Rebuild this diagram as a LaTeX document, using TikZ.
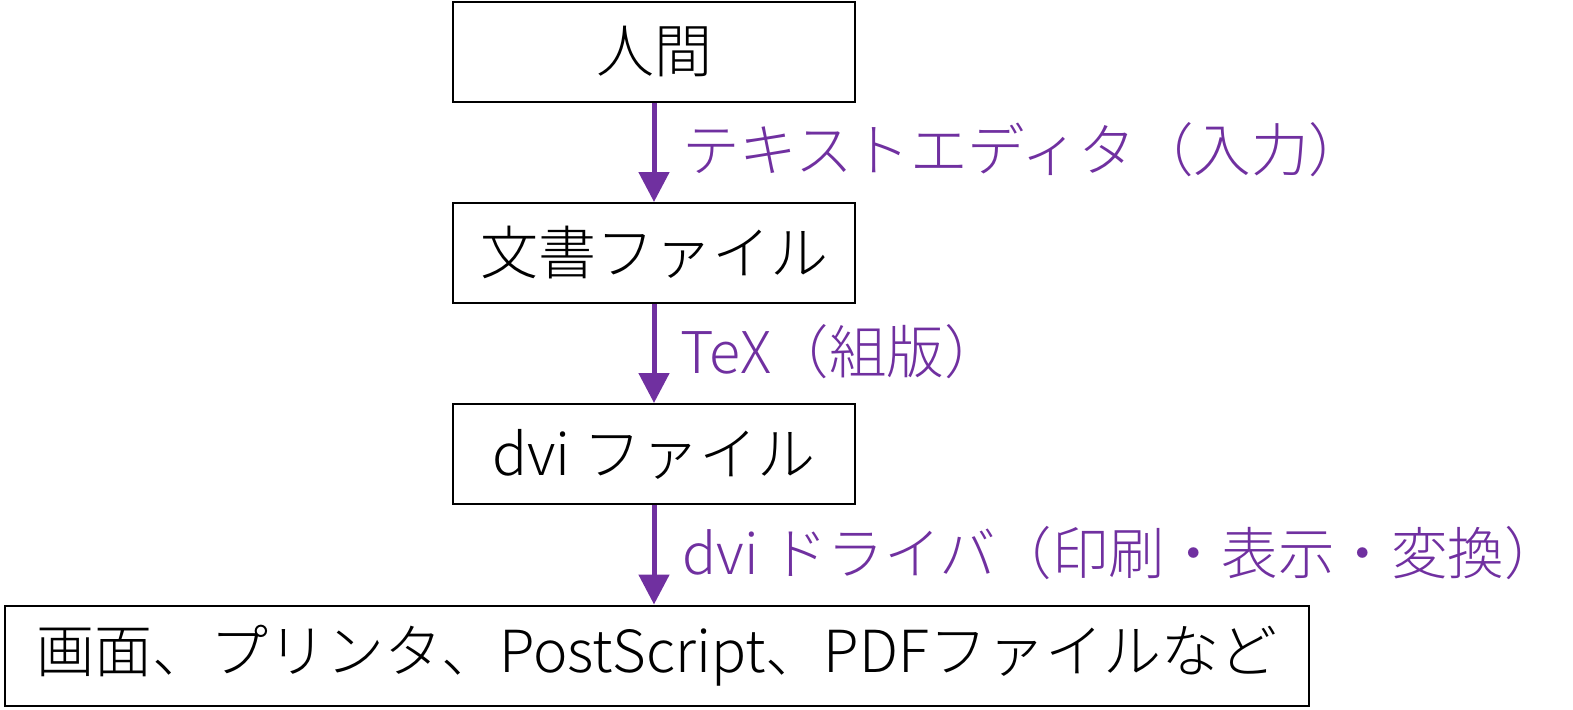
\documentclass[tikz,border=0pt]{standalone}
\usepackage{fontspec}
\setmainfont{Noto Sans CJK JP Light}
\usetikzlibrary{arrows.meta}
\definecolor{arrowpurple}{HTML}{7030A0}
\begin{document}
\begin{tikzpicture}[x=1pt,y=-1pt,
  box/.style={draw=black,line width=2pt,minimum width=402pt,minimum height=100pt,inner sep=0pt,font=\fontsize{58}{66}\selectfont},
  flow/.style={draw=arrowpurple,line width=5pt,-{Triangle[width=30pt,length=30pt]}},
  lab/.style={anchor=west,inner sep=0pt,text=arrowpurple,font=\fontsize{57.5}{66}\selectfont}]
\useasboundingbox (0,0) rectangle (1573,709);
\node[box] (b1) at (654,52) {人間};
\node[box] (b2) at (654,253) {文書ファイル};
\node[box] (b3) at (654,454) {dvi ファイル};
\node[box,minimum width=1304pt] (b4) at (657,655.5) {画面、プリンタ、PostScript、PDFファイルなど};
\draw[flow] (b1.south) -- (b2.north);
\draw[flow] (b2.south) -- (b3.north);
\draw[flow] (b3.south) -- (b4.north -| b3.south);
\node[lab] (l1) at (682,150) {テキストエディタ（入力）};
\node[lab] (l2) at (680,352) {TeX（組版）};
\node[lab,font=\fontsize{56.5}{66}\selectfont] (l3) at (682,553) {dvi ドライバ（印刷・表示・変換）};
\end{tikzpicture}
\end{document}
